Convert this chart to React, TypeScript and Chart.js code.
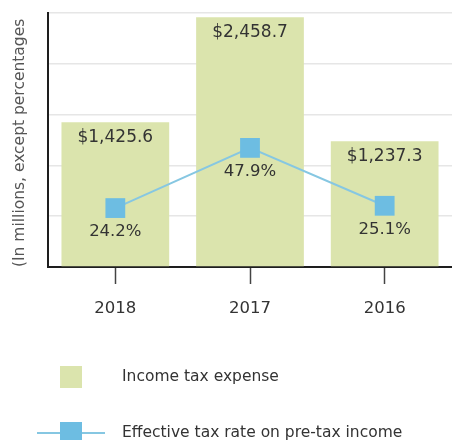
import React, { useEffect, useRef } from 'react';
import { Chart, registerables } from 'chart.js';

Chart.register(...registerables);

// ---- data ----
const years = ['2018', '2017', '2016'];
const incomeTaxExpense = [1425.6, 2458.7, 1237.3];
const effectiveTaxRate = [24.2, 47.9, 25.1];
const expenseLabels = ['$1,425.6', '$2,458.7', '$1,237.3'];
const rateLabels = ['24.2%', '47.9%', '25.1%'];
const seriesNames = ['Income tax expense', 'Effective tax rate on pre-tax income'];
const axisTitle = '(In millions, except percentages';
const expenseAxis = { min: 0, max: 2500, step: 500 };
const rateAxis = { min: 1, max: 101 };

const BAR_COLOR = '#dbe4ad';
const LINE_COLOR = '#86c7e2';
const POINT_COLOR = '#6dbde2';
const TEXT_COLOR = '#333333';
const FONT = 'DejaVu Sans';

const valueLabelsPlugin = {
  id: 'valueLabels',
  afterDatasetsDraw(chart: any) {
    const ctx = chart.ctx;
    ctx.save();
    ctx.fillStyle = TEXT_COLOR;
    ctx.textAlign = 'center';
    ctx.textBaseline = 'middle';
    ctx.font = `17px "${FONT}"`;
    chart.getDatasetMeta(0).data.forEach((el: any, i: number) => {
      ctx.fillText(expenseLabels[i], el.x, el.y + 15);
    });
    ctx.font = `16.5px "${FONT}"`;
    chart.getDatasetMeta(1).data.forEach((el: any, i: number) => {
      ctx.fillText(rateLabels[i], el.x, el.y + 24);
    });
    ctx.restore();
  },
};

const legendPlugin = {
  id: 'stackedLegend',
  afterDraw(chart: any) {
    const ctx = chart.ctx;
    const base = chart.chartArea.bottom;
    const boxX = 60;
    const box = 22;
    const textX = 122;
    const y1 = base + 110;
    const y2 = base + 166;
    const bar = chart.data.datasets[0];
    const line = chart.data.datasets[1];
    ctx.save();
    ctx.fillStyle = bar.backgroundColor;
    ctx.fillRect(boxX, y1 - box / 2, box, box);
    ctx.strokeStyle = line.borderColor;
    ctx.lineWidth = 2;
    ctx.beginPath();
    ctx.moveTo(37, y2);
    ctx.lineTo(105, y2);
    ctx.stroke();
    ctx.fillStyle = line.pointBackgroundColor;
    ctx.fillRect(boxX, y2 - box / 2, box, box);
    ctx.fillStyle = TEXT_COLOR;
    ctx.font = `15.5px "${FONT}"`;
    ctx.textAlign = 'left';
    ctx.textBaseline = 'middle';
    ctx.fillText(bar.label, textX, y1);
    ctx.fillText(line.label, textX, y2);
    ctx.restore();
  },
};

export default function App() {
  const canvasRef = useRef<HTMLCanvasElement | null>(null);

  useEffect(() => {
    document.body.style.margin = '0';
    document.body.style.overflow = 'hidden';
    if (!canvasRef.current) return;
    Chart.defaults.font.family = FONT;
    const chart = new Chart(canvasRef.current, {
      type: 'bar',
      data: {
        labels: years,
        datasets: [
          {
            type: 'bar',
            label: seriesNames[0],
            data: incomeTaxExpense,
            yAxisID: 'y',
            backgroundColor: BAR_COLOR,
            borderWidth: 0,
            categoryPercentage: 1,
            barPercentage: 0.8,
            order: 1,
          } as any,
          {
            type: 'line',
            label: seriesNames[1],
            data: effectiveTaxRate,
            yAxisID: 'y2',
            borderColor: LINE_COLOR,
            borderWidth: 2,
            pointStyle: 'rect',
            pointRadius: 14,
            pointHoverRadius: 14,
            pointBackgroundColor: POINT_COLOR,
            pointBorderColor: POINT_COLOR,
            pointBorderWidth: 0,
            tension: 0,
            order: 0,
          } as any,
        ],
      },
      options: {
        animation: false,
        responsive: true,
        maintainAspectRatio: false,
        layout: { autoPadding: false, padding: { top: 13, right: 0, bottom: 113, left: 0 } },
        plugins: {
          legend: { display: false },
          tooltip: { enabled: false },
        },
        scales: {
          x: {
            offset: true,
            grid: {
              display: true,
              drawOnChartArea: false,
              drawTicks: true,
              tickLength: 17,
              tickColor: '#444',
              tickWidth: 1.5,
              offset: false,
            },
            border: { display: true, color: '#1e1e1e', width: 2 },
            ticks: {
              color: TEXT_COLOR,
              font: { size: 16.5, family: FONT },
              padding: 15,
            },
            afterFit(scale: any) {
              scale.height = 60;
            },
          },
          y: {
            position: 'left',
            min: expenseAxis.min,
            max: expenseAxis.max,
            ticks: { stepSize: expenseAxis.step, display: false },
            grid: { color: '#e6e6e6', lineWidth: 1.5, drawTicks: false },
            border: { display: true, color: '#1e1e1e', width: 2 },
            title: {
              display: true,
              text: axisTitle,
              align: 'start',
              color: '#555',
              font: { size: 15.5, family: FONT },
              padding: { top: 11, bottom: 0 },
            },
            afterFit(scale: any) {
              scale.width = 48;
            },
          },
          y2: {
            display: false,
            min: rateAxis.min,
            max: rateAxis.max,
          },
        },
      },
      plugins: [valueLabelsPlugin, legendPlugin],
    });
    return () => chart.destroy();
  }, []);

  return (
    <div style={{ position: 'relative', width: 452, height: 440, overflow: 'hidden' }}>
      <canvas ref={canvasRef} style={{ display: 'block' }} />
    </div>
  );
}
